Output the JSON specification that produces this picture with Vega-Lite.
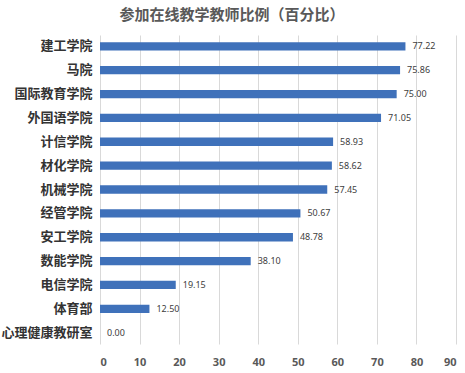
{
  "$schema": "https://vega.github.io/schema/vega-lite/v6.json",
  "autosize": {"type": "none"},
  "width": 356,
  "height": 309,
  "padding": {"left": 100, "top": 35, "right": 9, "bottom": 29},
  "background": "white",
  "title": {
    "text": "参加在线教学教师比例（百分比）",
    "font": "Noto Sans CJK SC",
    "fontSize": 15,
    "fontWeight": "bold",
    "color": "#595959",
    "anchor": "middle",
    "dx": -46,
    "offset": 12
  },
  "data": {
    "values": [
      {"dept": "建工学院", "pct": 77.22},
      {"dept": "马院", "pct": 75.86},
      {"dept": "国际教育学院", "pct": 75.00},
      {"dept": "外国语学院", "pct": 71.05},
      {"dept": "计信学院", "pct": 58.93},
      {"dept": "材化学院", "pct": 58.62},
      {"dept": "机械学院", "pct": 57.45},
      {"dept": "经管学院", "pct": 50.67},
      {"dept": "安工学院", "pct": 48.78},
      {"dept": "数能学院", "pct": 38.10},
      {"dept": "电信学院", "pct": 19.15},
      {"dept": "体育部", "pct": 12.50},
      {"dept": "心理健康教研室", "pct": 0.00}
    ]
  },
  "encoding": {
    "y": {
      "field": "dept",
      "type": "nominal",
      "sort": null,
      "scale": {"paddingInner": 0.65, "paddingOuter": 0.3},
      "axis": {
        "title": null,
        "domain": false,
        "ticks": false,
        "grid": false,
        "labelFont": "Noto Sans CJK SC",
        "labelFontSize": 13,
        "labelFontWeight": "bold",
        "labelColor": "#333333",
        "labelPadding": 8
      }
    },
    "x": {
      "field": "pct",
      "type": "quantitative",
      "scale": {"domain": [0, 90], "nice": false},
      "axis": {
        "title": null,
        "values": [0, 10, 20, 30, 40, 50, 60, 70, 80, 90],
        "domain": false,
        "ticks": false,
        "grid": true,
        "gridColor": "#d9d9d9",
        "labelFont": "Noto Sans",
        "labelFontSize": 11,
        "labelFontWeight": "bold",
        "labelColor": "#595959",
        "labelPadding": 12
      }
    }
  },
  "layer": [
    {"mark": {"type": "bar", "color": "#3F71BA"}},
    {
      "mark": {"type": "text", "align": "left", "dx": 7, "fontSize": 9, "font": "Noto Sans", "color": "#404040"},
      "encoding": {"text": {"field": "pct", "type": "quantitative", "format": ".2f"}}
    }
  ],
  "config": {"view": {"stroke": null}}
}
